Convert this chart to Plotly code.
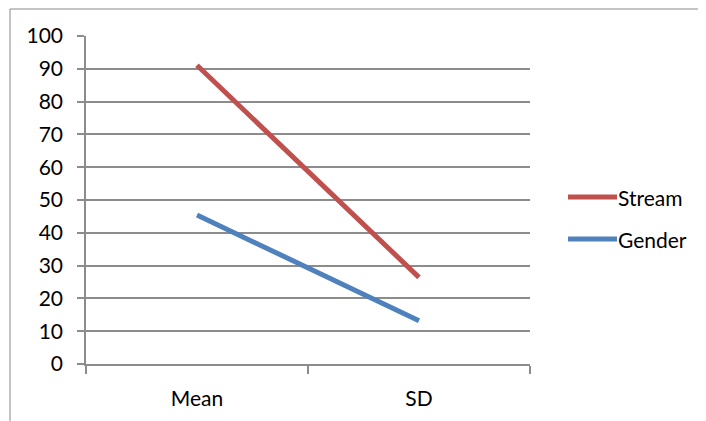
import plotly.graph_objects as go

categories = ["Mean", "SD"]
stream = [91.1, 26.4]
gender = [45.4, 13.2]
series_names = ["Stream", "Gender"]
colors = ["#C0504D", "#4F81BD"]
y_ticks = list(range(0, 101, 10))

# page body has an 8px margin; work in screen pixels and shift
OFF = 8
W, H = 706 - OFF, 421 - OFF
L, R, T, B = 86 - OFF, 530 - OFF, 36 - OFF, 364 - OFF
FONT = "Lato"
FS = 21

def px_x(px):
    return (px - OFF - L) / (R - L)

def px_y(py):
    return (B - (py - OFF)) / (B - T)

fig = go.Figure()
for name, vals, col in zip(series_names, [stream, gender], colors):
    fig.add_trace(go.Scatter(x=categories, y=vals, mode="lines", name=name,
                             line=dict(color=col, width=5), showlegend=False))

grid = "#8C8C8C"
fig.update_layout(
    width=W, height=H,
    margin=dict(l=L, r=W - R, t=T, b=H - B, pad=0),
    paper_bgcolor="white", plot_bgcolor="white",
    font=dict(family=FONT, size=FS, color="black"),
    xaxis=dict(type="category", range=[-0.5, 1.5], showgrid=False,
               showline=True, linecolor=grid, linewidth=1.5,
               ticks="outside", ticklen=8, tickcolor=grid, tickwidth=1.5,
               tickson="boundaries", ticklabelstandoff=15,
               tickfont=dict(family=FONT, size=FS)),
    yaxis=dict(range=[0, 100], tickvals=y_ticks, showgrid=True, gridcolor=grid,
               gridwidth=1.5, showline=True, linecolor=grid, linewidth=1.5,
               ticks="outside", ticklen=7, tickcolor=grid, tickwidth=1.5,
               ticklabelstandoff=10, zeroline=False,
               tickfont=dict(family=FONT, size=FS)),
)

# chart border
fig.add_shape(type="rect", xref="paper", yref="paper",
              x0=px_x(10), x1=px_x(720), y0=px_y(440), y1=px_y(9),
              line=dict(color="#888888", width=1), layer="below")

# custom legend
leg_y = [197, 239]
for name, col, ly in zip(series_names, colors, leg_y):
    fig.add_shape(type="line", xref="paper", yref="paper",
                  x0=px_x(568), x1=px_x(617), y0=px_y(ly), y1=px_y(ly),
                  line=dict(color=col, width=5))
    fig.add_annotation(xref="paper", yref="paper", x=px_x(616), y=px_y(ly),
                       text=name, showarrow=False, xanchor="left", yanchor="middle",
                       font=dict(family=FONT, size=FS, color="black"))

fig.write_html("out.html")
